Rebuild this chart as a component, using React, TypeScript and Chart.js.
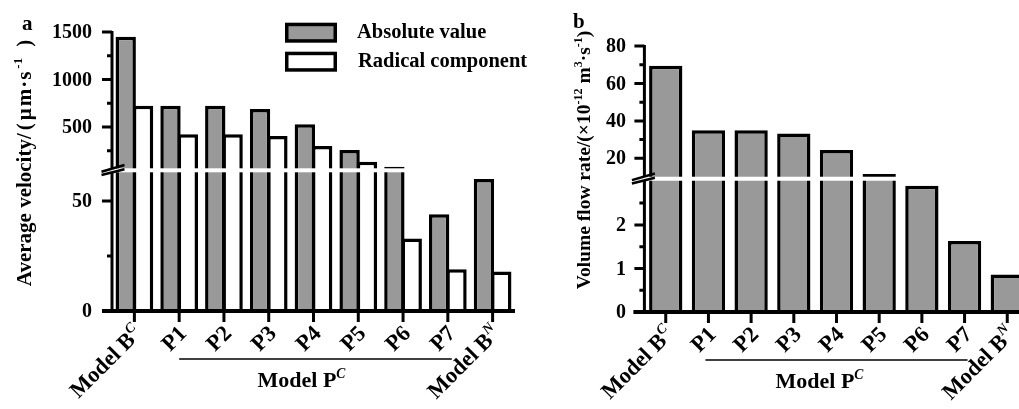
import React, { useEffect, useRef } from "react";
import { Chart, registerables, LinearScale } from "chart.js";

Chart.register(...registerables);

// ---------- data ----------
const categoryMain = ["Model B", "P1", "P2", "P3", "P4", "P5", "P6", "P7", "Model B"];
const categorySup = ["C", "", "", "", "", "", "", "", "N"];
const absoluteVelocity = [1450, 724, 724, 690, 528, 258, 82, 44, 60];
const radicalVelocity = [724, 423, 423, 405, 300, 135, 33, 19, 18];
const volumeFlowRate = [69.4, 35, 35, 33.3, 24.4, 11.6, 2.9, 1.63, 0.86];
const velocityMajorTicks = [0, 50, 500, 1000, 1500];
const velocityMinorTicks = [25, 250, 750, 1250];
const flowMajorTicks = [0, 1, 2, 20, 40, 60, 80];
const flowMinorTicks = [0.5, 1.5, 2.5, 30, 50, 70];
const legendLabels = ["Absolute value", "Radical component"];
const groupLabel = "Model P";
const groupSup = "C";

const GREY = "#999999";
const FONT = '"Liberation Serif", "Times New Roman", serif';

// ---------- broken linear scale ----------
class BrokenLinearScale extends LinearScale {
  static id = "brokenLinear";
  static defaults = (LinearScale as any).defaults;
  getPixelForValue(value: number) {
    const b = (this.options as any).brk;
    const lowMax = b.lowMax, highMin = b.highMin, frac = b.frac;
    let f: number;
    if (value <= lowMax) f = ((value - this.min) / (lowMax - this.min)) * frac;
    else f = frac + ((Math.max(value, highMin) - highMin) / (this.max - highMin)) * (1 - frac);
    return this.bottom - f * (this.bottom - this.top);
  }
  getValueForPixel(pixel: number) {
    const b = (this.options as any).brk;
    const f = (this.bottom - pixel) / (this.bottom - this.top);
    if (f <= b.frac) return this.min + (f / b.frac) * (b.lowMax - this.min);
    return b.highMin + ((f - b.frac) / (1 - b.frac)) * (this.max - b.highMin);
  }
}
Chart.register(BrokenLinearScale as any);

// ---------- rich text helpers ----------
type Part = { t: string; sup?: boolean; it?: boolean; dx?: number };
function setFont(ctx: CanvasRenderingContext2D, size: number, p?: Part) {
  const s = p && p.sup ? size * 0.62 : size;
  ctx.font = `${p && p.it ? "italic " : ""}bold ${s}px ${FONT}`;
}
function richWidth(ctx: CanvasRenderingContext2D, parts: Part[], size: number) {
  let w = 0;
  for (const p of parts) {
    setFont(ctx, size, p);
    w += ctx.measureText(p.t).width + (p.dx || 0);
  }
  return w;
}
function drawRich(
  ctx: CanvasRenderingContext2D,
  parts: Part[],
  x: number,
  y: number,
  size: number,
  align: "left" | "right" | "center"
) {
  const w = richWidth(ctx, parts, size);
  let cx = align === "right" ? x - w : align === "center" ? x - w / 2 : x;
  ctx.textAlign = "left";
  ctx.textBaseline = "alphabetic";
  for (const p of parts) {
    setFont(ctx, size, p);
    cx += p.dx || 0;
    ctx.fillText(p.t, cx, p.sup ? y - size * 0.42 : y);
    cx += ctx.measureText(p.t).width;
  }
}
function catParts(i: number): Part[] {
  const parts: Part[] = [{ t: categoryMain[i] }];
  if (categorySup[i]) parts.push({ t: categorySup[i], sup: true, it: true });
  return parts;
}

// ---------- panel config ----------
interface PanelCfg {
  left: number;
  width: number;
  padding: { left: number; top: number; right: number; bottom: number };
  datasets: { label: string; data: number[]; color: string }[];
  catPct: number;
  barPct: number;
  max: number;
  brk: { lowMax: number; highMin: number; frac: number };
  major: number[];
  minor: number[];
  title: Part[];
  titleSize: number;
  titlePos: [number, number];
  letter: string;
  letterPos: [number, number];
  labelGap: number;
  slashX: [number, number];
  axisLeftExtend: number;
  groupDx: number;
  groupLine: [number, number];
  legend: boolean;
}

const panelA: PanelCfg = {
  left: 0,
  width: 560,
  padding: { left: 112, top: 32, right: 45, bottom: 98 },
  datasets: [
    { label: legendLabels[0], data: absoluteVelocity, color: GREY },
    { label: legendLabels[1], data: radicalVelocity, color: "#ffffff" },
  ],
  catPct: 0.775,
  barPct: 1.173,
  max: 1500,
  brk: { lowMax: 64, highMin: 44, frac: 0.5043 },
  major: velocityMajorTicks,
  minor: velocityMinorTicks,
  title: [
    { t: "Average velocity/" },
    { t: "(", dx: 3 },
    { t: "μ", dx: 3 },
    { t: "m", dx: 2 },
    { t: "·", dx: 1 },
    { t: "s", dx: 1 },
    { t: "-1", sup: true, dx: 3 },
    { t: ")", dx: 11 },
  ],
  titleSize: 21,
  titlePos: [24, 163],
  letter: "a",
  letterPos: [22, 30],
  labelGap: 20,
  slashX: [-10.5, 12.5],
  axisLeftExtend: 10,
  groupDx: -12,
  groupLine: [0, 4],
  legend: true,
};

const panelB: PanelCfg = {
  left: 520,
  width: 520,
  padding: { left: 124.4, top: 46, right: 11.4, bottom: 97 },
  datasets: [{ label: "Volume flow rate", data: volumeFlowRate, color: GREY }],
  catPct: 1,
  barPct: 0.78,
  max: 80,
  brk: { lowMax: 3.06, highMin: 9.1, frac: 0.501 },
  major: flowMajorTicks,
  minor: flowMinorTicks,
  title: [
    { t: "Volume flow rate/(×10" },
    { t: "-12", sup: true },
    { t: " m" },
    { t: "3", sup: true },
    { t: "·s" },
    { t: "-1", sup: true },
    { t: ")" },
  ],
  titleSize: 19.5,
  titlePos: [63, 160],
  letter: "b",
  letterPos: [53, 28],
  labelGap: 18.5,
  slashX: [-12.5, 10.5],
  axisLeftExtend: 11,
  groupDx: -17,
  groupLine: [-3, 3],
  legend: false,
};

function makeDecor(cfg: PanelCfg) {
  return {
    id: "decor",
    afterDatasetsDraw(chart: any) {
      const ctx: CanvasRenderingContext2D = chart.ctx;
      const area = chart.chartArea;
      const xs = chart.scales.x;
      const ys = chart.scales.y;
      const axisX = area.left;
      const breakY = area.bottom - cfg.brk.frac * (area.bottom - area.top);
      ctx.save();

      // white break band
      ctx.fillStyle = "#ffffff";
      ctx.fillRect(axisX - 12, breakY - 2, area.right - axisX + 30, 4);

      // y axis line (two segments)
      ctx.strokeStyle = "#000";
      ctx.lineCap = "butt";
      ctx.lineWidth = 3;
      ctx.beginPath();
      ctx.moveTo(axisX, ys.getPixelForValue(cfg.max) - 1);
      ctx.lineTo(axisX, breakY - 2);
      ctx.moveTo(axisX, breakY + 2);
      ctx.lineTo(axisX, area.bottom);
      ctx.stroke();

      // x axis line
      ctx.lineWidth = 4;
      ctx.beginPath();
      ctx.moveTo(axisX - cfg.axisLeftExtend, area.bottom);
      ctx.lineTo(area.right, area.bottom);
      ctx.stroke();

      // y ticks
      ctx.lineWidth = 3;
      ctx.beginPath();
      for (const v of cfg.major) {
        const y = ys.getPixelForValue(v);
        ctx.moveTo(axisX - 10, y);
        ctx.lineTo(axisX, y);
      }
      for (const v of cfg.minor) {
        const y = ys.getPixelForValue(v);
        ctx.moveTo(axisX - 5, y);
        ctx.lineTo(axisX, y);
      }
      ctx.stroke();

      // x ticks
      ctx.beginPath();
      for (let i = 0; i < categoryMain.length; i++) {
        const x = xs.getPixelForValue(i);
        ctx.moveTo(x, area.bottom);
        ctx.lineTo(x, area.bottom + 11);
      }
      ctx.stroke();

      // break slashes
      ctx.lineWidth = 2.5;
      ctx.beginPath();
      const [sx0, sx1] = cfg.slashX;
      ctx.moveTo(axisX + sx0, breakY + 1.4);
      ctx.lineTo(axisX + sx1, breakY - 5.3);
      ctx.moveTo(axisX + sx0, breakY + 4.7);
      ctx.lineTo(axisX + sx1, breakY - 1.0);
      ctx.stroke();

      // y tick labels
      ctx.fillStyle = "#000";
      ctx.font = `bold 20px ${FONT}`;
      ctx.textAlign = "right";
      ctx.textBaseline = "middle";
      for (const v of cfg.major) {
        ctx.fillText(String(v), axisX - cfg.labelGap, ys.getPixelForValue(v) + 1);
      }

      // x labels rotated
      for (let i = 0; i < categoryMain.length; i++) {
        const x = xs.getPixelForValue(i);
        ctx.save();
        ctx.translate(x + 3, area.bottom + 18);
        ctx.rotate(-Math.PI / 4);
        drawRich(ctx, catParts(i), 0, 8, 22.5, "right");
        ctx.restore();
      }

      // group line + label
      const x1 = xs.getPixelForValue(1);
      const x7 = xs.getPixelForValue(7);
      const x4 = xs.getPixelForValue(4);
      ctx.lineWidth = 1.6;
      ctx.beginPath();
      ctx.moveTo(x1 + cfg.groupLine[0], area.bottom + 48);
      ctx.lineTo(x7 + cfg.groupLine[1], area.bottom + 48);
      ctx.stroke();
      drawRich(ctx, [{ t: groupLabel }, { t: groupSup, sup: true, it: true }], x4 + cfg.groupDx, area.bottom + 76, 22, "center");

      // axis title
      ctx.save();
      ctx.translate(cfg.titlePos[0], cfg.titlePos[1]);
      ctx.rotate(-Math.PI / 2);
      drawRich(ctx, cfg.title, 0, 7, cfg.titleSize, "center");
      ctx.restore();

      // panel letter
      ctx.font = `bold 21px ${FONT}`;
      ctx.textAlign = "left";
      ctx.textBaseline = "alphabetic";
      ctx.fillText(cfg.letter, cfg.letterPos[0], cfg.letterPos[1]);

      // legend
      if (cfg.legend) {
        cfg.datasets.forEach((d, k) => {
          const top = 22.7 + k * 29;
          ctx.fillStyle = "#000";
          ctx.fillRect(285, top, 52, 20);
          ctx.fillStyle = d.color;
          ctx.fillRect(288.5, top + 3.5, 45, 13);
          ctx.fillStyle = "#000";
          ctx.font = `bold 20.5px ${FONT}`;
          ctx.textAlign = "left";
          ctx.textBaseline = "middle";
          ctx.fillText(d.label, 357 + k, top + 10.5);
        });
      }
      ctx.restore();
    },
  };
}

function Panel({ cfg }: { cfg: PanelCfg }) {
  const ref = useRef<HTMLCanvasElement>(null);
  useEffect(() => {
    const chart = new Chart(ref.current!, {
      type: "bar",
      data: {
        labels: categoryMain.map((m, i) => m + categorySup[i]),
        datasets: cfg.datasets.map((d) => ({
          label: d.label,
          data: d.data,
          backgroundColor: d.color,
          borderColor: "#000000",
          borderWidth: 3.5,
          borderSkipped: "start" as const,
          categoryPercentage: cfg.catPct,
          barPercentage: cfg.barPct,
        })),
      },
      options: {
        animation: false,
        responsive: false,
        devicePixelRatio: 1,
        layout: { padding: cfg.padding },
        plugins: { legend: { display: false }, tooltip: { enabled: false }, title: { display: false } },
        scales: {
          x: { type: "category", display: false, offset: true, grid: { display: false } },
          y: {
            type: "brokenLinear" as any,
            display: false,
            min: 0,
            max: cfg.max,
            brk: cfg.brk,
          } as any,
        },
      },
      plugins: [makeDecor(cfg)],
    });
    return () => chart.destroy();
  }, []);
  return (
    <canvas
      ref={ref}
      width={cfg.width}
      height={409}
      style={{ position: "absolute", left: cfg.left, top: 0, width: cfg.width, height: 409 }}
    />
  );
}

export default function App() {
  return (
    <div
      style={{
        position: "fixed",
        left: 0,
        top: 0,
        width: 1019,
        height: 409,
        overflow: "hidden",
        background: "#ffffff",
      }}
    >
      <Panel cfg={panelA} />
      <Panel cfg={panelB} />
    </div>
  );
}
